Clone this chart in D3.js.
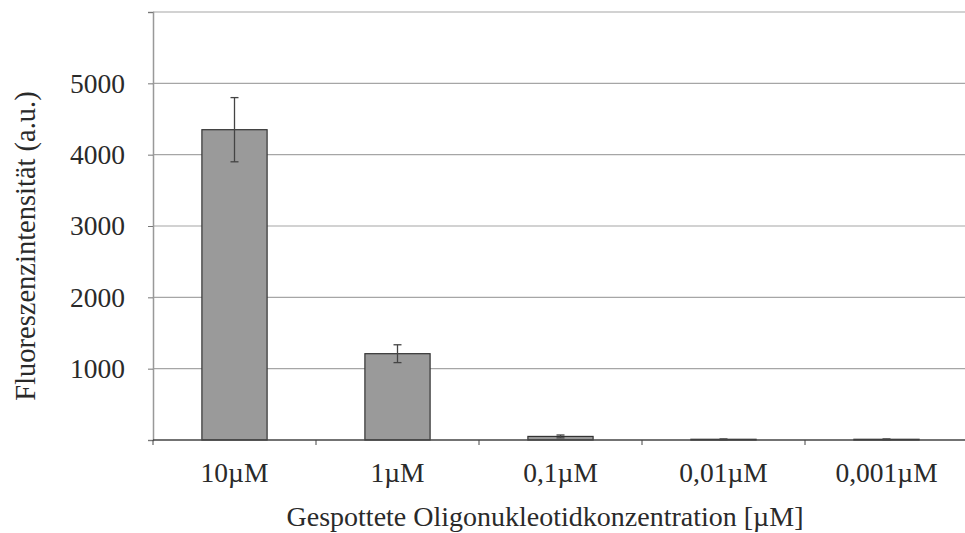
<!DOCTYPE html>
<meta charset="utf-8">
<style>
    body { margin: 0; background: #fff; }
    text { font-family: "Liberation Serif", "Times New Roman", serif; fill: #2a2a2a; }
    .grid line { stroke: #a6a6a6; stroke-width: 1.2px; }
</style>
<svg width="965" height="533"></svg>
<script src="https://d3js.org/d3.v7.min.js"></script>
<script>
    // values
    var categories = ["10µM", "1µM", "0,1µM", "0,01µM", "0,001µM"];
    var means = [4350, 1210, 50, 10, 10];
    var errors = [450, 125, 20, 5, 5];
    var yTicks = [1000, 2000, 3000, 4000, 5000];

    var svg = d3.select("svg");
    var margin = {left: 153, right: -3, top: 12, bottom: 93};
    var width = 965 - margin.left - margin.right,
        height = 533 - margin.top - margin.bottom;

    var g = svg.append("g")
        .attr("transform", "translate(" + margin.left + "," + margin.top + ")");

    var x = d3.scaleBand().domain(categories).range([0, width]).paddingInner(0.6).paddingOuter(0.3);
    var y = d3.scaleLinear().domain([0, 6000]).range([height, 0]);

    // gridlines
    g.append("g").attr("class", "grid")
        .selectAll("line")
        .data(yTicks.concat([6000]))
        .enter().append("line")
        .attr("x1", 0).attr("x2", width)
        .attr("y1", d => y(d)).attr("y2", d => y(d));

    // bars
    g.selectAll("rect.bar")
        .data(means)
        .enter().append("rect")
        .attr("class", "bar")
        .attr("x", (d, i) => x(categories[i]))
        .attr("width", x.bandwidth())
        .attr("y", d => y(d))
        .attr("height", d => height - y(d))
        .attr("fill", "#9a9a9a")
        .attr("stroke", "#333")
        .attr("stroke-width", 1.2);

    // error bars
    var err = g.append("g").attr("stroke", "#444").attr("stroke-width", 1.3);
    means.forEach(function (m, i) {
        var cx = x(categories[i]) + x.bandwidth() / 2;
        err.append("line").attr("x1", cx).attr("x2", cx)
            .attr("y1", y(m + errors[i])).attr("y2", y(m - errors[i]));
        [m + errors[i], m - errors[i]].forEach(function (v) {
            err.append("line").attr("x1", cx - 4).attr("x2", cx + 4)
                .attr("y1", y(v)).attr("y2", y(v));
        });
    });

    // y axis
    var yAxis = g.append("g")
        .call(d3.axisLeft(y).tickValues([0].concat(yTicks).concat([6000])).tickSize(5).tickFormat(d => (d === 0 || d === 6000) ? "" : d));
    yAxis.select(".domain").attr("stroke", "#999").attr("stroke-width", 1.5);
    yAxis.selectAll(".tick line").attr("stroke", "#777");
    yAxis.selectAll(".tick text").attr("x", -28).style("font-size", "27.5px");

    // x axis: ticks at band boundaries
    var xa = g.append("g").attr("transform", "translate(0," + height + ")");
    xa.append("line").attr("x1", 0).attr("x2", width).attr("stroke", "#444").attr("stroke-width", 1.5);
    xa.selectAll("line.t")
        .data(categories)
        .enter().append("line")
        .attr("class", "t")
        .attr("x1", d => x(d) - x.step() * x.paddingInner() / 2)
        .attr("x2", d => x(d) - x.step() * x.paddingInner() / 2)
        .attr("y1", 0).attr("y2", 5)
        .attr("stroke", "#444");
    xa.selectAll("text")
        .data(categories)
        .enter().append("text")
        .attr("x", d => x(d) + x.bandwidth() / 2)
        .attr("y", 42)
        .attr("text-anchor", "middle")
        .style("font-size", "27.5px")
        .text(d => d);

    // axis titles
    svg.append("text")
        .attr("x", 545).attr("y", 526)
        .attr("text-anchor", "middle")
        .style("font-size", "28px")
        .text("Gespottete Oligonukleotidkonzentration [µM]");
    svg.append("text")
        .attr("transform", "translate(35,246) rotate(-90)")
        .attr("text-anchor", "middle")
        .style("font-size", "28.5px")
        .text("Fluoreszenzintensität (a.u.)");
</script>
